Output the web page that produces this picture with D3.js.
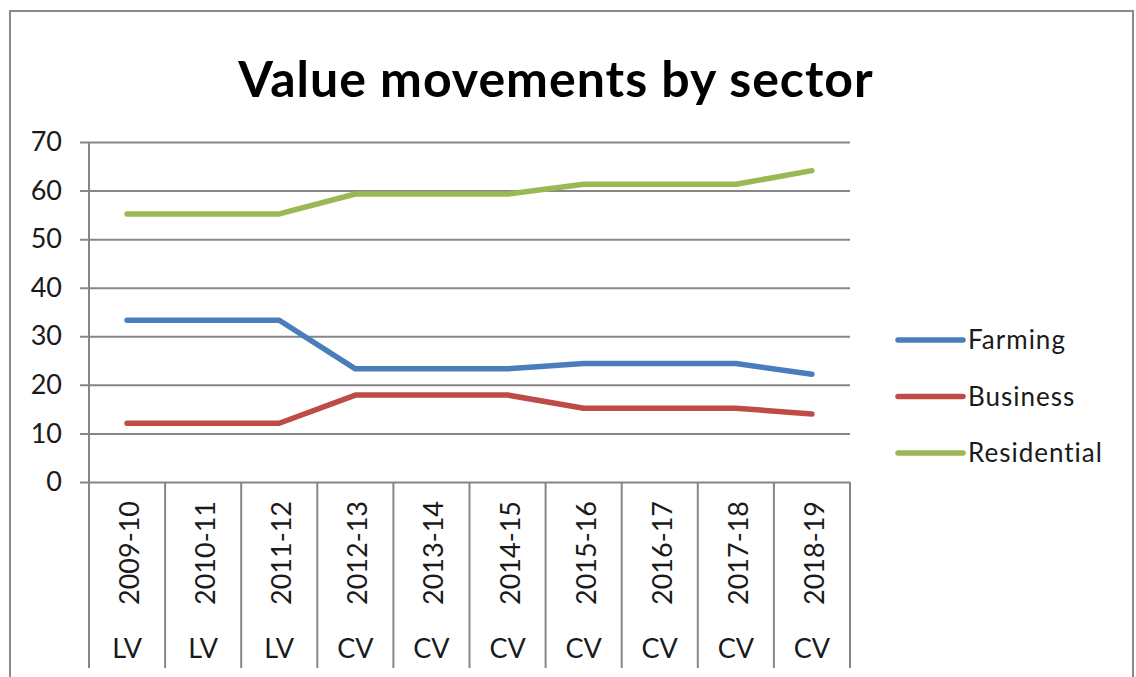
<!doctype html>
<html lang="en">
<head>
  <meta charset="UTF-8">
  <title>Value movements by sector</title>
  <style>
    body { margin: 0; background: #fff; }
    text { font-family: Lato, "Open Sans", sans-serif; fill: #1a1a1a; }
  </style>
</head>
<body>
<div class="container"></div>

<script src="https://d3js.org/d3.v7.min.js"></script>

<script>
  const years = ['2009-10', '2010-11', '2011-12', '2012-13', '2013-14', '2014-15', '2015-16', '2016-17', '2017-18', '2018-19'];
  const valuation = ['LV', 'LV', 'LV', 'CV', 'CV', 'CV', 'CV', 'CV', 'CV', 'CV'];
  const farming = [33.3, 33.3, 33.3, 23.3, 23.3, 23.3, 24.4, 24.4, 24.4, 22.2];
  const business = [12.1, 12.1, 12.1, 17.9, 17.9, 17.9, 15.2, 15.2, 15.2, 14.0];
  const residential = [55.2, 55.2, 55.2, 59.3, 59.3, 59.3, 61.3, 61.3, 61.3, 64.1];
  const yTicks = [0, 10, 20, 30, 40, 50, 60, 70];

  const series = [
    { name: 'Farming', values: farming, color: '#4a7ebb' },
    { name: 'Business', values: business, color: '#be4b48' },
    { name: 'Residential', values: residential, color: '#98b954' }
  ];

  const SVG_WIDTH = 1136;
  const SVG_HEIGHT = 677;
  const PLOT_LEFT = 89;
  const PLOT_RIGHT = 850;
  const PLOT_TOP = 142;
  const PLOT_BOTTOM = 482;
  const TABLE_BOTTOM = 668;

  const svg = d3.select('.container')
    .append('svg')
    .attr('width', SVG_WIDTH)
    .attr('height', SVG_HEIGHT);

  // chart border
  svg.append('rect')
    .attr('x', 10).attr('y', 11)
    .attr('width', 1123).attr('height', 700)
    .attr('fill', 'none')
    .attr('stroke', '#8a8a8a')
    .attr('stroke-width', 2);

  svg.append('text')
    .attr('x', 556).attr('y', 97)
    .attr('text-anchor', 'middle')
    .style('font-size', '50px')
    .style('font-weight', 'bold')
    .style('letter-spacing', '1px')
    .style('fill', '#000')
    .text('Value movements by sector');

  const x = d3.scaleBand()
    .domain(years)
    .range([PLOT_LEFT, PLOT_RIGHT])
    .padding(0);

  const y = d3.scaleLinear()
    .domain([0, 70])
    .range([PLOT_BOTTOM, PLOT_TOP]);

  // gridlines + y axis
  const yAxis = d3.axisLeft(y)
    .tickValues(yTicks)
    .tickSize(-(PLOT_RIGHT - PLOT_LEFT))
    .tickPadding(27);

  const yAxisGroup = svg.append('g')
    .attr('transform', `translate(${PLOT_LEFT},0)`)
    .call(yAxis);
  yAxisGroup.select('.domain').remove();
  yAxisGroup.selectAll('.tick line')
    .attr('x1', -9)
    .attr('stroke', '#868686')
    .attr('stroke-width', 2);
  yAxisGroup.selectAll('.tick text')
    .style('font-size', '27px')
    .style('font-family', 'Lato, sans-serif')
    .attr('fill', '#1a1a1a');

  // category table lines (axis + separators)
  const bounds = years.map(d => x(d)).concat([x(years[years.length - 1]) + x.bandwidth()]);
  svg.append('g')
    .selectAll('line')
    .data(bounds)
    .join('line')
    .attr('x1', d => d).attr('x2', d => d)
    .attr('y1', (d, i) => i === 0 ? PLOT_TOP : PLOT_BOTTOM)
    .attr('y2', TABLE_BOTTOM)
    .attr('stroke', '#868686')
    .attr('stroke-width', 2);

  // year labels (rotated)
  svg.append('g')
    .selectAll('text')
    .data(years)
    .join('text')
    .attr('transform', d => `translate(${x(d) + x.bandwidth() / 2 + 12},553) rotate(-90)`)
    .attr('text-anchor', 'middle')
    .style('font-size', '27px')
    .text(d => d);

  // LV / CV labels
  svg.append('g')
    .selectAll('text')
    .data(years)
    .join('text')
    .attr('x', d => x(d) + x.bandwidth() / 2)
    .attr('y', 658)
    .attr('text-anchor', 'middle')
    .style('font-size', '27px')
    .text((d, i) => valuation[i]);

  // lines
  const line = d3.line()
    .x((d, i) => x(years[i]) + x.bandwidth() / 2)
    .y(d => y(d));

  svg.append('g')
    .selectAll('path')
    .data(series)
    .join('path')
    .attr('d', d => line(d.values))
    .attr('fill', 'none')
    .attr('stroke', d => d.color)
    .attr('stroke-width', 5.5)
    .attr('stroke-linejoin', 'round')
    .attr('stroke-linecap', 'round');

  // legend
  const legend = svg.append('g')
    .selectAll('g')
    .data(series)
    .join('g')
    .attr('transform', (d, i) => `translate(898,${340 + i * 56.5})`);

  legend.append('line')
    .attr('x1', 0).attr('x2', 65)
    .attr('stroke', d => d.color)
    .attr('stroke-width', 5.5)
    .attr('stroke-linecap', 'round');

  legend.append('text')
    .attr('x', 70)
    .attr('dy', '0.35em')
    .style('font-size', '26px')
    .style('letter-spacing', '1px')
    .text(d => d.name);
</script>
</body>
</html>
